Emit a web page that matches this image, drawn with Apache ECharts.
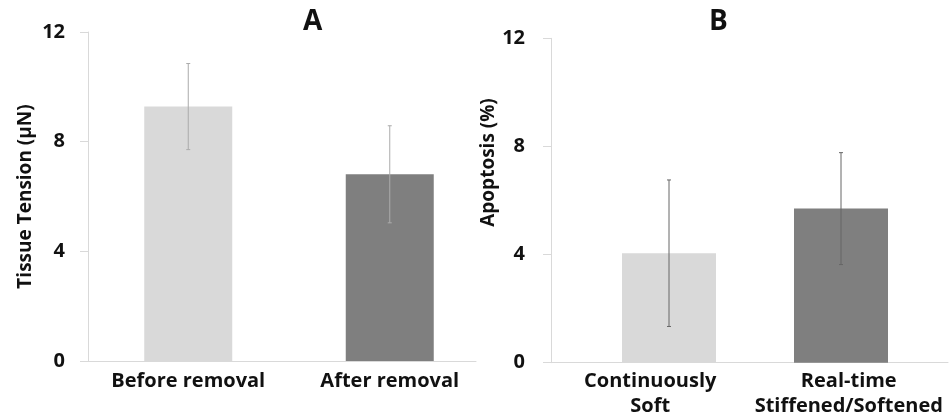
<!DOCTYPE html>
<html>
<head>
<meta charset="utf-8">
<script src="https://cdn.jsdelivr.net/npm/echarts@6/dist/echarts.min.js"></script>
<style>
html,body{margin:0;padding:0;background:#fff;}
#chart{width:949px;height:420px;}
</style>
</head>
<body>
<div id="chart"></div>
<script>
const categoriesA = ['Before removal', 'After removal'];
const valuesA = [9.28, 6.81];
const errorsA = [1.57, 1.77];
const categoriesB = ['Continuously\nSoft', 'Real-time\nStiffened/Softened'];
const valuesB = [4.05, 5.70];
const errorsB = [2.71, 2.07];
const yTicks = [0, 4, 8, 12];
const barColors = ['#d9d9d9', '#7f7f7f'];

const FONT = 'Open Sans';
const TXT = '#111111';
const AX = '#d9d9d9';

function errData(vals, errs) {
  return vals.map((v, i) => [i, v - errs[i], v + errs[i]]);
}
function errSeries(xi, yi, vals, errs, color) {
  return {
    type: 'custom', xAxisIndex: xi, yAxisIndex: yi, z: 5,
    data: errData(vals, errs),
    renderItem: function (params, api) {
      const lo = api.coord([api.value(0), api.value(1)]);
      const hi = api.coord([api.value(0), api.value(2)]);
      const w = 2;
      const st = {stroke: color, lineWidth: 1};
      return {type: 'group', children: [
        {type: 'line', shape: {x1: hi[0], y1: hi[1], x2: lo[0], y2: lo[1]}, style: st},
        {type: 'line', shape: {x1: hi[0]-w, y1: hi[1], x2: hi[0]+w, y2: hi[1]}, style: st},
        {type: 'line', shape: {x1: lo[0]-w, y1: lo[1], x2: lo[0]+w, y2: lo[1]}, style: st}
      ]};
    }
  };
}
function barData(vals) {
  return vals.map((v, i) => ({value: v, itemStyle: {color: barColors[i]}}));
}
function visY(gi, name, margin, pad) {
  return {
    type: 'value', gridIndex: gi, min: yTicks[0], max: yTicks[yTicks.length-1], interval: 4,
    name: name, nameLocation: 'middle', nameGap: 53,
    nameTextStyle: {fontFamily: FONT, fontWeight: 'bold', fontSize: 19, color: TXT, padding: pad},
    axisLine: {show: true, lineStyle: {color: AX, width: 1}},
    axisTick: {show: true, length: 8, lineStyle: {color: AX}},
    axisLabel: {margin: margin, fontFamily: FONT, fontWeight: 'bold', fontSize: 20, color: TXT},
    splitLine: {show: false}
  };
}
function hidY(gi) {
  return {type: 'value', gridIndex: gi, min: yTicks[0], max: yTicks[yTicks.length-1], interval: 4, show: false, splitLine: {show: false}};
}
const labelStyle = {fontFamily: FONT, fontWeight: 'bold', fontSize: 20, color: TXT, lineHeight: 25};

const chart = echarts.init(document.getElementById('chart'), null, {renderer: 'canvas'});
chart.setOption({
  backgroundColor: '#fff',
  animation: false,
  title: [
    {text: 'A', left: 298, top: 3, textStyle: {fontFamily: FONT, fontWeight: 'bold', fontSize: 28, color: TXT}},
    {text: 'B', left: 704, top: 3, textStyle: {fontFamily: FONT, fontWeight: 'bold', fontSize: 28, color: TXT}}
  ],
  grid: [
    {left: 88, top: 32, width: 388, height: 329},
    {left: 87.5, top: 32, width: 403, height: 329},
    {left: 551, top: 38.3, width: 397, height: 324.4},
    {left: 583, top: 38.3, width: 344, height: 324.4}
  ],
  xAxis: [
    {type: 'category', gridIndex: 0, data: categoriesA, axisLine: {show: true, lineStyle: {color: AX}}, axisTick: {show: false}, axisLabel: {show: false}},
    {type: 'category', gridIndex: 1, data: categoriesA, axisLine: {show: false}, axisTick: {show: false}, axisLabel: Object.assign({margin: 8}, labelStyle)},
    {type: 'category', gridIndex: 2, data: categoriesB, axisLine: {show: true, lineStyle: {color: AX}}, axisTick: {show: false}, axisLabel: Object.assign({margin: 6, interval: 0}, labelStyle)},
    {type: 'category', gridIndex: 3, data: categoriesB, axisLine: {show: false}, axisTick: {show: false}, axisLabel: {show: false}}
  ],
  yAxis: [
    visY(0, 'Tissue Tension (µN)', 23, [0, 0, 0, 0]),
    hidY(1),
    visY(2, 'Apoptosis (%)', 26, [0, 0, 0, 76]),
    hidY(3)
  ],
  series: [
    {type: 'bar', xAxisIndex: 1, yAxisIndex: 1, barWidth: 88, data: barData(valuesA)},
    errSeries(1, 1, valuesA, errorsA, '#ababab'),
    {type: 'bar', xAxisIndex: 3, yAxisIndex: 3, barWidth: 94, data: barData(valuesB)},
    errSeries(3, 3, valuesB, errorsB, '#666666')
  ]
});
</script>
</body>
</html>
